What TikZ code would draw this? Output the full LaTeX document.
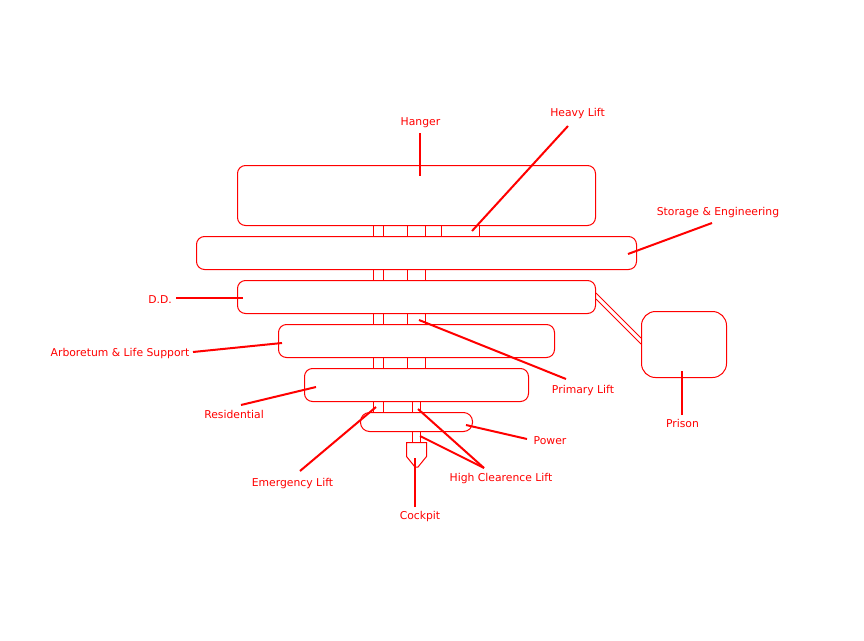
\documentclass[tikz,border=0pt]{standalone}
\usepackage{fontspec}
\setmainfont{DejaVu Sans}
\tikzset{
  deck/.style={draw=red,line width=1pt,rounded corners=#1},
  shaft/.style={draw=red,line width=1pt},
  thinline/.style={draw=red,line width=0.8pt},
  lead/.style={draw=red,line width=2pt},
  lab/.style={text=red,font=\fontsize{10.8}{12}\selectfont,inner sep=0pt,anchor=center}
}
\begin{document}
\begin{tikzpicture}[x=1pt,y=-1pt]
\useasboundingbox (0,0) rectangle (864,640);
% decks
\draw[deck=8pt] (237.5,165.5) rectangle (595.5,225.5);
\draw[deck=8pt] (196.5,236.5) rectangle (636.5,269.5);
\draw[deck=8pt] (237.5,280.5) rectangle (595.5,313.5);
\draw[deck=8pt] (278.5,324.5) rectangle (554.5,357.5);
\draw[deck=8pt] (304.5,368.5) rectangle (528.5,401.5);
\draw[deck=9pt] (360.5,412.5) rectangle (472.5,431.5);
\draw[deck=14pt] (641.5,311.5) rectangle (726.5,377.5);
% shafts
\foreach \x in {373.5,383.5,407.5,425.5,441.5,479.5} \draw[shaft] (\x,225.5) -- (\x,236.5);
\foreach \x in {373.5,383.5,407.5,425.5} {
  \draw[shaft] (\x,269.5) -- (\x,280.5);
  \draw[shaft] (\x,313.5) -- (\x,324.5);
  \draw[shaft] (\x,357.5) -- (\x,368.5);
}
\foreach \x in {373.5,383.5,412.5,420.5} \draw[shaft] (\x,401.5) -- (\x,412.5);
\foreach \x in {412.5,420.5} \draw[shaft] (\x,431.5) -- (\x,442.5);
% cockpit
\draw[shaft] (406.5,442.5) -- (426.5,442.5) -- (426.5,456.5) -- (418,467) -- (415,467) -- (406.5,456.5) -- cycle;
% prison link
\draw[thinline] (596,293) -- (641,338);
\draw[thinline] (596,299) -- (641,344);
% labels
\node[lab] (hanger) at (420.5,122.5) {Hanger};
\node[lab] (heavy) at (577.5,113.5) {Heavy Lift};
\node[lab] (storage) at (718,212.5) {Storage \& Engineering};
\node[lab] (dd) at (160,299.5) {D.D.};
\node[lab] (arb) at (120,353.5) {Arboretum \& Life Support};
\node[lab] (res) at (234,414.5) {Residential};
\node[lab] (primary) at (583,390.5) {Primary Lift};
\node[lab] (prison) at (682.5,423.5) {Prison};
\node[lab] (power) at (550,440.5) {Power};
\node[lab] (high) at (501,478.5) {High Clearence Lift};
\node[lab] (emerg) at (292.5,483.5) {Emergency Lift};
\node[lab] (cockpit) at (420,516.5) {Cockpit};
% leader ends
\coordinate (hangerEnd) at (420,176);
\coordinate (heavyEnd) at (472,231);
\coordinate (storageEnd) at (628,254);
\coordinate (ddEnd) at (243,298);
\coordinate (arbEnd) at (282,343);
\coordinate (resEnd) at (316,387);
\coordinate (primaryEnd) at (419,320);
\coordinate (prisonEnd) at (682,371);
\coordinate (powerEnd) at (466,425);
\coordinate (highA) at (418,409);
\coordinate (highB) at (420,436);
\coordinate (emergEnd) at (376,407);
\coordinate (cockpitEnd) at (415,458);
% leaders
\draw[lead] (420,133) -- (hangerEnd);
\draw[lead] (568,126) -- (heavyEnd);
\draw[lead] (712,223) -- (storageEnd);
\draw[lead] (176,298) -- (ddEnd);
\draw[lead] (193,352) -- (arbEnd);
\draw[lead] (241,405) -- (resEnd);
\draw[lead] (566,379) -- (primaryEnd);
\draw[lead] (682,415) -- (prisonEnd);
\draw[lead] (527,439) -- (powerEnd);
\draw[lead] (484,468) -- (highA);
\draw[lead] (484,468) -- (highB);
\draw[lead] (300,471) -- (emergEnd);
\draw[lead] (415,507) -- (cockpitEnd);
\end{tikzpicture}
\end{document}
